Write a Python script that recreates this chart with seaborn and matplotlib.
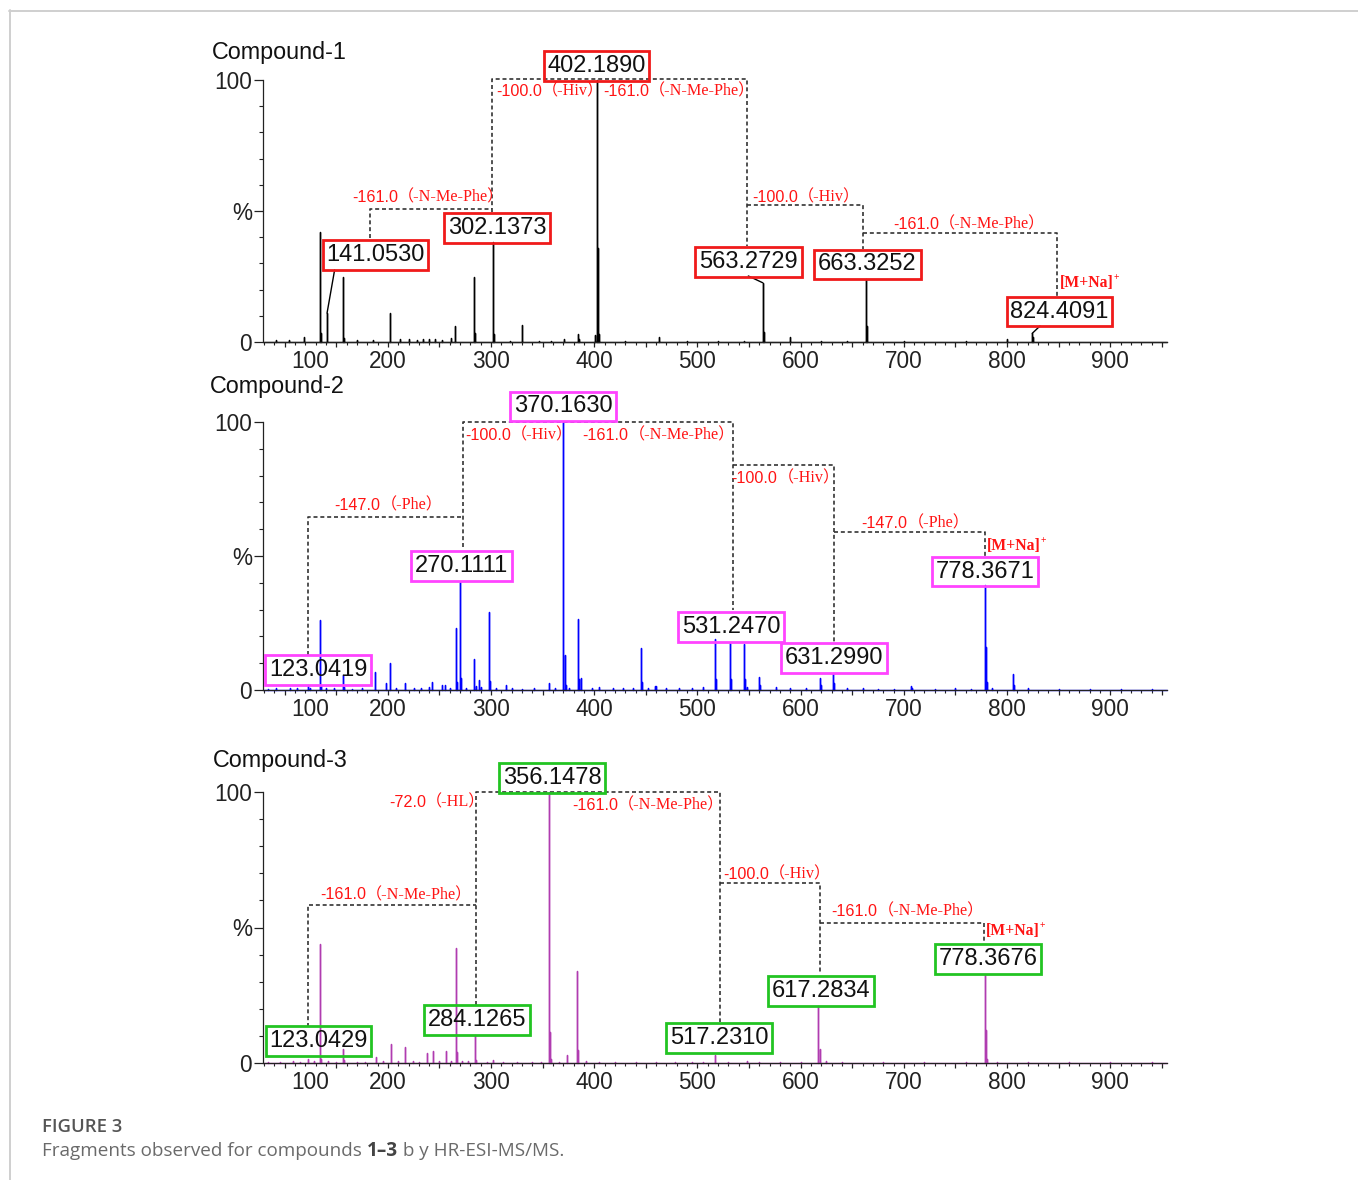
import numpy as np
import pandas as pd
import matplotlib
matplotlib.use("Agg")
import matplotlib.pyplot as plt
from matplotlib.lines import Line2D
from matplotlib.text import Annotation
from matplotlib.ticker import MultipleLocator
from matplotlib.transforms import ScaledTranslation
import seaborn as sns

# ---------------------------------------------------------------- spectra data
# Compound-1 : m/z and relative abundance (%)
c1_mz = [92.0, 104.0, 118.8, 134.1, 135.1, 141.0530, 156.1, 157.1, 170.0, 186.0,
         201.6, 211.6, 220.9, 228.0, 234.0, 240.0, 246.0, 252.0, 261.3, 265.1,
         283.1, 284.1, 302.1373, 303.1, 318.0, 329.8, 346.0, 358.0, 370.6, 384.4,
         385.4, 401.1, 402.1890, 403.19, 404.2, 430.0, 463.1, 490.0, 520.0, 545.0,
         563.2729, 564.28, 589.9, 620.0, 645.0, 663.3252, 664.33, 700.0, 760.0,
         799.8, 824.4091, 825.4]
c1_int = [0.8, 0.6, 2.0, 42.0, 3.5, 11.0, 25.0, 1.5, 0.6, 0.8,
          11.0, 1.0, 1.0, 0.6, 1.0, 1.2, 1.0, 0.6, 1.5, 6.0,
          25.0, 3.5, 38.0, 3.0, 0.5, 6.5, 0.5, 0.5, 1.0, 3.0,
          1.0, 2.5, 100.0, 36.0, 3.0, 0.5, 2.0, 0.4, 0.4, 0.5,
          22.6, 4.0, 2.0, 0.5, 0.4, 24.0, 6.0, 0.4, 0.4,
          1.0, 3.3, 2.0]
c1_labels = [141.0530, 302.1373, 402.1890, 563.2729, 663.3252, 824.4091]

# Compound-2
c2_mz = [84.0, 92.0, 105.0, 112.0, 123.0419, 125.0, 134.1, 135.1, 140.0, 148.0,
         156.1, 157.1, 165.0, 175.0, 188.0, 198.0, 202.4, 208.0, 216.5, 225.0,
         232.0, 240.0, 243.0, 252.8, 255.0, 260.0, 266.1, 267.1, 270.1111, 271.1,
         276.0, 283.9, 285.0, 288.0, 290.0, 298.0, 299.0, 305.0, 314.6, 320.0,
         330.0, 342.0, 356.0, 362.0, 370.1630, 371.2, 372.2, 376.0, 383.9, 384.9,
         387.6, 398.0, 405.0, 418.0, 428.0, 438.0, 445.0, 446.0, 452.0, 459.0,
         460.0, 470.0, 482.0, 495.0, 505.0, 517.3, 518.3, 531.2470, 532.2, 545.4,
         546.4, 548.0, 559.6, 560.6, 575.8, 590.0, 605.0, 618.6, 619.6, 631.2990,
         632.3, 645.0, 660.0, 675.0, 690.0, 707.0, 708.0, 730.0, 750.0, 765.0,
         778.3671, 779.4, 780.4, 785.0, 806.0, 807.0, 820.0, 850.0, 880.0, 910.0,
         940.0]
c2_int = [0.5, 0.8, 0.6, 0.7, 2.0, 0.8, 26.0, 2.0, 0.8, 0.6,
          5.6, 1.0, 0.5, 0.6, 6.8, 2.5, 10.0, 0.8, 2.7, 0.6,
          0.7, 1.2, 3.0, 2.0, 2.0, 0.8, 23.0, 3.0, 40.3, 4.6,
          0.8, 11.5, 1.5, 3.7, 1.2, 29.0, 3.5, 0.8, 2.0, 0.6,
          0.5, 0.6, 2.5, 0.6, 100.0, 13.0, 2.0, 0.8, 26.6, 4.0,
          4.6, 0.8, 1.0, 0.6, 0.6, 0.7, 15.7, 3.0, 0.8, 1.5,
          1.5, 0.6, 0.6, 0.6, 1.0, 19.0, 4.0, 17.5, 4.0, 17.0,
          4.0, 1.0, 4.7, 2.0, 1.0, 0.6, 0.8, 4.3, 2.0, 6.3,
          2.5, 0.6, 0.6, 0.5, 0.5, 1.5, 0.8, 0.5, 0.7, 0.5,
          39.0, 16.0, 3.0, 0.8, 5.8, 2.0, 0.8, 0.4, 0.4, 0.4,
          0.3]
c2_labels = [123.0419, 270.1111, 370.1630, 531.2470, 631.2990, 778.3671]

# Compound-3
c3_mz = [84.0, 95.0, 108.0, 115.0, 123.0429, 128.0, 134.1, 135.1, 142.0, 150.0,
         156.1, 157.1, 170.0, 178.0, 188.9, 195.0, 202.9, 210.0, 216.6, 224.0,
         230.0, 238.0, 244.2, 250.0, 256.4, 261.0, 266.4, 267.4, 272.0, 278.0,
         284.1265, 285.0, 296.0, 302.0, 312.0, 325.0, 340.0, 348.0, 356.1478, 357.2,
         358.2, 366.0, 373.5, 383.1, 384.1, 392.0, 405.0, 420.0, 440.0, 460.0,
         478.0, 495.0, 505.0, 517.2310, 530.0, 547.7, 560.0, 580.0, 600.0, 617.2834,
         618.3, 625.0, 640.0, 680.0, 720.0, 760.0, 778.3676, 779.4, 780.4, 790.0,
         820.0, 860.0, 900.0, 940.0]
c3_int = [0.4, 0.5, 0.6, 0.5, 1.6, 0.6, 44.0, 1.5, 0.6, 0.5,
          5.3, 1.0, 0.5, 0.5, 2.2, 0.6, 7.1, 0.6, 5.9, 0.6,
          0.5, 3.7, 4.3, 0.7, 4.3, 0.6, 42.6, 4.0, 0.8, 0.6,
          10.3, 1.0, 0.5, 1.0, 0.5, 0.4, 0.5, 0.4, 100.0, 11.4,
          1.5, 0.5, 3.0, 34.0, 4.7, 0.6, 0.5, 0.4, 0.5, 0.4,
          0.4, 0.4, 0.5, 3.0, 0.5, 0.8, 0.4, 0.4, 0.5, 21.0,
          5.0, 0.6, 0.4, 0.4, 0.4, 0.5, 32.5, 12.0, 1.5, 0.5,
          0.4, 0.3, 0.3, 0.3]
c3_labels = [123.0429, 284.1265, 356.1478, 517.2310, 617.2834, 778.3676]

scan_range = (80.0, 955.0)

# ---------------------------------------------------------------- annotation layout
# box centres, leader starts, dashed loss brackets and loss captions (m/z, %)
layout1 = dict(
    boxes={141.0530: (188.0, 33.2), 302.1373: (306.2, 43.5), 402.1890: (402.2, 105.3),
           563.2729: (549.4, 30.5), 663.3252: (664.8, 29.6), 824.4091: (850.8, 11.6)},
    leaders={141.0530: (148.4, 27.5), 563.2729: (549.3, 25.2), 824.4091: (831.9, 6.1)},
    brackets=[[(183.1, 39.7), (183.1, 50.8), (300.9, 50.8)],
              [(300.9, 49.6), (300.9, 100.4), (548.0, 100.4), (548.0, 36.6)],
              [(548.0, 52.3), (660.7, 52.3), (660.7, 35.5)],
              [(660.7, 41.5), (848.1, 41.5), (848.1, 17.3)]],
    losses=[(304.8, 95.8, "-100.0", "（-Hiv）"),
            (408.5, 95.8, "-161.0", "（-N-Me-Phe）"),
            (165.2, 55.3, "-161.0", "（-N-Me-Phe）"),
            (552.8, 55.3, "-100.0", "（-Hiv）"),
            (689.5, 45.0, "-161.0", "（-N-Me-Phe）")],
    adduct=(851.3, 22.5),
)
layout2 = dict(
    boxes={123.0419: (132.3, 7.5), 270.1111: (271.3, 46.3), 370.1630: (369.7, 105.8),
           531.2470: (532.5, 23.5), 631.2990: (632.3, 11.9), 778.3671: (778.6, 44.2)},
    leaders={},
    brackets=[[(122.3, 13.1), (122.3, 64.7), (272.5, 64.7)],
              [(272.5, 53.4), (272.5, 100.0), (534.1, 100.0), (534.1, 29.9)],
              [(534.1, 84.0), (632.6, 84.0), (632.6, 18.0)],
              [(632.6, 59.1), (778.6, 59.1), (778.6, 49.3)]],
    losses=[(148.4, 68.7, "-147.0", "（-Phe）"),
            (275.1, 95.1, "-100.0", "（-Hiv）"),
            (388.8, 95.1, "-161.0", "（-N-Me-Phe）"),
            (533.2, 79.1, "-100.0", "（-Hiv）"),
            (659.1, 62.3, "-147.0", "（-Phe）")],
    adduct=(780.3, 53.7),
)
layout3 = dict(
    boxes={123.0429: (132.8, 8.1), 284.1265: (286.8, 15.9), 356.1478: (359.0, 105.2),
           517.2310: (520.9, 9.2), 617.2834: (619.7, 26.6), 778.3676: (781.5, 38.4)},
    leaders={},
    brackets=[[(122.3, 13.4), (122.3, 58.3), (285.4, 58.3)],
              [(285.4, 21.4), (285.4, 100.0), (521.8, 100.0), (521.8, 15.2)],
              [(521.8, 66.3), (618.7, 66.3), (618.7, 33.2)],
              [(618.7, 51.5), (777.6, 51.5), (777.6, 44.2)]],
    losses=[(201.0, 96.1, "-72.0", "（-HL）"),
            (378.5, 95.2, "-161.0", "（-N-Me-Phe）"),
            (134.2, 62.0, "-161.0", "（-N-Me-Phe）"),
            (525.0, 69.4, "-100.0", "（-Hiv）"),
            (630.1, 55.8, "-161.0", "（-N-Me-Phe）")],
    adduct=(779.6, 48.7),
)

# ---------------------------------------------------------------- style
sns.set_theme(style="ticks")
plt.rcParams["font.family"] = ["Liberation Sans", "DejaVu Sans"]
plt.rcParams["axes.edgecolor"] = "#222222"
plt.rcParams["xtick.color"] = "#222222"
plt.rcParams["ytick.color"] = "#222222"

W, H = 1358, 1180
fig = plt.figure(figsize=(W / 100, H / 100), dpi=100)
fig.patch.set_facecolor("white")


def fig_rect(left, top, right, bottom):
    return [left / W, 1 - bottom / H, (right - left) / W, (bottom - top) / H]


def stick_frame(mz, inten, lo, hi):
    order = np.argsort(mz)
    xs, ys = [lo], [0.0]
    for i in order:
        xs += [mz[i]] * 3
        ys += [0.0, inten[i], 0.0]
    xs.append(hi)
    ys.append(0.0)
    return pd.DataFrame({"m/z": xs, "rel": ys})


RED = "#ff1414"
DASH = "#333333"
LOSS_FS = 11.6

panels = [
    dict(name="Compound-1", mz=c1_mz, inten=c1_int, labels=c1_labels, layout=layout1,
         color="#000000", box="#f01a1a", rect=fig_rect(263, 80, 1167, 342), title=(212, 53)),
    dict(name="Compound-2", mz=c2_mz, inten=c2_int, labels=c2_labels, layout=layout2,
         color="#0000ff", box="#ff44ff", rect=fig_rect(263, 422, 1167, 690), title=(210, 387)),
    dict(name="Compound-3", mz=c3_mz, inten=c3_int, labels=c3_labels, layout=layout3,
         color="#b03cb0", box="#22c422", rect=fig_rect(263, 792, 1167, 1063), title=(213, 760)),
]

for p in panels:
    ax = fig.add_axes(p["rect"])
    ax.patch.set_alpha(0)
    df = stick_frame(p["mz"], p["inten"], *scan_range)
    sns.lineplot(data=df, x="m/z", y="rel", sort=False, estimator=None,
                 color=p["color"], lw=1.0, ax=ax, clip_on=False)

    ax.set_xlim(79, 955)
    ax.set_ylim(0, 100)
    ax.set_xlabel("")
    ax.set_ylabel("")
    xt = np.arange(100, 951, 50)
    ax.set_xticks(xt)
    ax.set_xticklabels([str(v) if v % 100 == 0 else "" for v in xt])
    ax.xaxis.set_minor_locator(MultipleLocator(10))
    ax.set_yticks([0, 50, 100])
    ax.set_yticklabels(["0", "%", "100"])
    ax.yaxis.set_minor_locator(MultipleLocator(10))
    ax.tick_params(axis="x", which="major", length=3.8, width=0.9, pad=2.0, labelsize=16.3)
    ax.tick_params(axis="x", which="minor", length=2.2, width=0.8)
    ax.tick_params(axis="y", which="major", length=6.5, width=0.9, pad=1.5, labelsize=16.3)
    ax.tick_params(axis="y", which="minor", length=3.0, width=0.8)
    sns.despine(ax=ax)
    for s in ("left", "bottom"):
        ax.spines[s].set_linewidth(0.9)

    # the "100" label sits a little to the right of its tick
    lab = ax.get_xticklabels()[0]
    lab.set_transform(lab.get_transform() + ScaledTranslation(0.26, 0, fig.dpi_scale_trans))

    lay = p["layout"]
    # dashed fragmentation brackets
    for seg in lay["brackets"]:
        xs, ys = zip(*seg)
        ax.plot(xs, ys, color=DASH, lw=1.2, ls=(0, (2.4, 1.7)), clip_on=False, zorder=3)

    # boxed fragment masses with leaders to their peaks
    for m in p["labels"]:
        cx, cy = lay["boxes"][m]
        ax.text(cx, cy, f"{m:.4f}", ha="center", va="center", fontsize=17, color="#111111",
                bbox=dict(boxstyle="square,pad=0.16", fc="none", ec=p["box"], lw=2.0),
                zorder=6)
        if m in lay["leaders"]:
            sx, sy = lay["leaders"][m]
            top = p["inten"][p["mz"].index(m)]
            ax.plot([sx, m], [sy, top], color=p["color"], lw=1.0, clip_on=False, zorder=4)

    # neutral loss captions
    for x, y, num, res in lay["losses"]:
        t = ax.text(x, y, num, color=RED, fontsize=LOSS_FS, ha="left", va="center",
                    family=["Liberation Sans"], zorder=6)
        ax.annotate(res, xy=(1, 0.5), xycoords=t, ha="left", va="center", color=RED,
                    fontsize=LOSS_FS, family=["Liberation Serif", "Noto Sans CJK SC"], zorder=6)

    ax_, ay_ = lay["adduct"]
    t = ax.text(ax_, ay_, "[M+Na]", color=RED, fontsize=11.3, fontweight="bold",
                family=["Liberation Serif"], ha="left", va="center", zorder=6)
    ax.annotate("+", xy=(1, 0.85), xycoords=t, ha="left", va="center", color=RED,
                fontsize=7, fontweight="bold", family=["Liberation Serif"], zorder=6)

    fig.text(p["title"][0] / W, 1 - p["title"][1] / H, p["name"], fontsize=16.8,
             color="#111111", ha="left", va="center")

# ---------------------------------------------------------------- frame and caption
fig.add_artist(Line2D([9 / W, 1.0], [1 - 10.5 / H] * 2, transform=fig.transFigure,
                      color="#cfcfcf", lw=1.4))
fig.add_artist(Line2D([9.5 / W] * 2, [0.0, 1 - 10 / H], transform=fig.transFigure,
                      color="#cfcfcf", lw=1.4))

CAP_FONT = ["Open Sans", "DejaVu Sans"]
fig.text(42 / W, 1 - 1127 / H, "FIGURE 3", fontsize=13.3, color="#555555",
         fontweight="semibold", family=CAP_FONT, ha="left", va="center")
part1 = fig.text(42 / W, 1 - 1151 / H, "Fragments observed for compounds ", fontsize=13.6,
                 color="#6a6a6a", family=CAP_FONT, ha="left", va="center")
part2 = fig.add_artist(Annotation("1–3", xy=(1, 0.5), xycoords=part1, fontsize=13.6,
                                  color="#444444", fontweight="bold", family=CAP_FONT,
                                  ha="left", va="center", annotation_clip=False))
fig.add_artist(Annotation(" b y HR-ESI-MS/MS.", xy=(1, 0.5), xycoords=part2, fontsize=13.6,
                          color="#6a6a6a", family=CAP_FONT, ha="left", va="center",
                          annotation_clip=False))

fig.savefig("out.png", dpi=100, facecolor="white")
